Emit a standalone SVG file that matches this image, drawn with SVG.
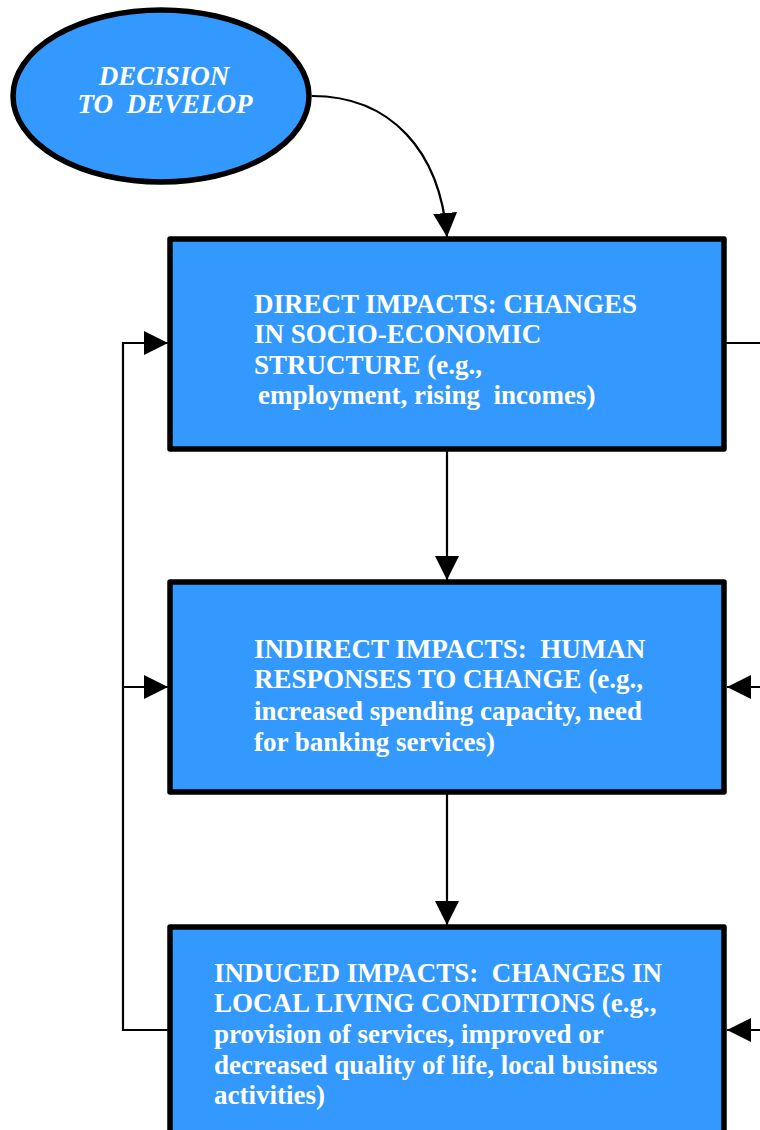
<svg xmlns="http://www.w3.org/2000/svg" width="760" height="1130" viewBox="0 0 760 1130">
<style>
.node{fill:#3399FF;stroke:#000;stroke-width:5.5;stroke-linejoin:round}
.lbl{font-family:"Liberation Serif","Times New Roman",serif;font-weight:bold;font-size:27px;fill:#fff;white-space:pre}
.it{font-style:italic}
.con{fill:none;stroke:#000;stroke-width:2.2}
</style>
<defs>
<marker id="ah" markerUnits="userSpaceOnUse" markerWidth="26" markerHeight="26" refX="24" refY="12" orient="auto">
<path d="M0,0 L24,12 L0,24 z" fill="#000"/>
</marker>
</defs>
<rect width="760" height="1130" fill="#fff"/>
<g id="connectors">
<path class="con" d="M312,96 C390,96 440,150 447,237" marker-end="url(#ah)"/>
<path class="con" d="M447,451 L447,580" marker-end="url(#ah)"/>
<path class="con" d="M447,794 L447,925" marker-end="url(#ah)"/>
<path class="con" d="M168,1030 L123,1030 L123,343 L168,343" marker-end="url(#ah)"/>
<path class="con" d="M123,687 L168,687" marker-end="url(#ah)"/>
<path class="con" d="M726,343 L760,343"/>
<path class="con" d="M762,687 L727,687" marker-end="url(#ah)"/>
<path class="con" d="M762,1030 L727,1030" marker-end="url(#ah)"/>
</g>
<g id="decision">
<ellipse class="node" cx="161" cy="96" rx="148" ry="86"/>
<text class="lbl it" x="164" y="85" text-anchor="middle">DECISION</text>
<text class="lbl it" x="165" y="113" text-anchor="middle" xml:space="preserve">TO  DEVELOP</text>
</g>
<g id="direct">
<rect class="node" x="170" y="239" width="554" height="210"/>
<text class="lbl" x="254" y="313">DIRECT IMPACTS: CHANGES</text>
<text class="lbl" x="254" y="343">IN SOCIO-ECONOMIC</text>
<text class="lbl" x="254" y="374">STRUCTURE (e.g.,</text>
<text class="lbl" x="258" y="404" xml:space="preserve">employment, rising  incomes)</text>
</g>
<g id="indirect">
<rect class="node" x="170" y="582" width="554" height="210"/>
<text class="lbl" x="254" y="658" xml:space="preserve">INDIRECT IMPACTS:  HUMAN</text>
<text class="lbl" x="254" y="688">RESPONSES TO CHANGE (e.g.,</text>
<text class="lbl" x="254" y="720">increased spending capacity, need</text>
<text class="lbl" x="254" y="751">for banking services)</text>
</g>
<g id="induced">
<rect class="node" x="170" y="927" width="554" height="250"/>
<text class="lbl" x="214" y="982" xml:space="preserve">INDUCED IMPACTS:  CHANGES IN</text>
<text class="lbl" x="214" y="1012">LOCAL LIVING CONDITIONS (e.g.,</text>
<text class="lbl" x="214" y="1043">provision of services, improved or</text>
<text class="lbl" x="214" y="1074">decreased quality of life, local business</text>
<text class="lbl" x="214" y="1104">activities)</text>
</g>
</svg>
